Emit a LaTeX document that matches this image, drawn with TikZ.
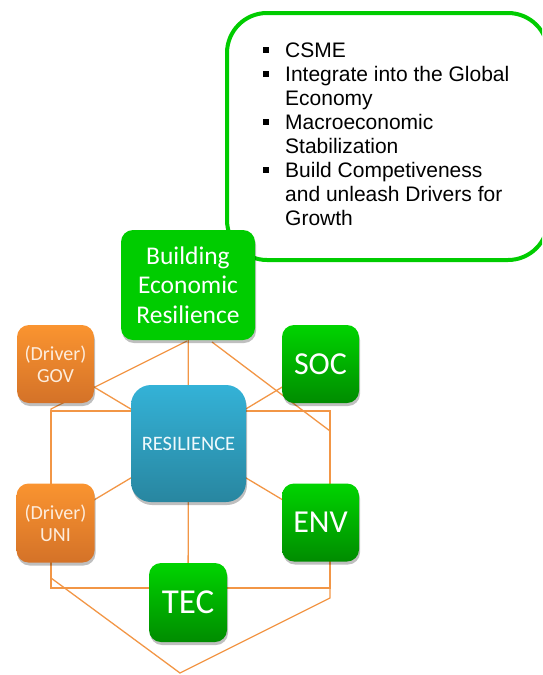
\documentclass[tikz,border=0pt]{standalone}
\usepackage{fontspec}
\setmainfont{Carlito}
\newfontfamily\listfont{Liberation Sans}
\usetikzlibrary{shadows,backgrounds}
\definecolor{calloutgreen}{RGB}{0,204,0}
\definecolor{greentop}{RGB}{0,212,0}
\definecolor{greenbot}{RGB}{0,140,0}
\definecolor{orangetop}{RGB}{250,148,48}
\definecolor{orangebot}{RGB}{212,114,40}
\definecolor{bluetop}{RGB}{52,178,215}
\definecolor{bluebot}{RGB}{40,134,160}
\definecolor{linkorange}{RGB}{242,150,70}
\definecolor{drivertext}{RGB}{253,236,220}
\newcommand\sqbullet{\raisebox{4.5pt}{\rule{6pt}{6pt}}}
\tikzset{
  box/.style={rounded corners=12pt,align=center,inner sep=0pt,text=white,
    drop shadow={shadow xshift=1pt,shadow yshift=-3pt,opacity=0.25,fill=black}},
  greenbox/.style={box,top color=greentop,bottom color=greenbot,
    minimum width=77pt,minimum height=78pt,font=\fontsize{32}{36}\selectfont},
  driverbox/.style={box,top color=orangetop,bottom color=orangebot,text=drivertext,
    minimum width=78pt,minimum height=79pt,font=\fontsize{20}{22}\selectfont},
  link/.style={draw=linkorange,line width=1.3pt}
}
\begin{document}
\begin{tikzpicture}[x=1pt,y=-1pt]
\useasboundingbox (0,0) rectangle (542,675);
\clip (0,0) rectangle (542,675);
% callout with the goals
\draw[calloutgreen,line width=4pt,rounded corners=40pt] (227,13) rectangle (548,260);
\node[anchor=north west,inner sep=0pt,font=\listfont\fontsize{21}{24}\selectfont] (goals) at (263,40)
  {\begin{tabular}{@{}p{22pt}@{}l@{}}
   \sqbullet & CSME\\
   \sqbullet & Integrate into the Global\\
             & Economy\\
   \sqbullet & Macroeconomic\\
             & Stabilization\\
   \sqbullet & Build Competiveness\\
             & and unleash Drivers for\\
             & Growth
   \end{tabular}};
% boxes
\node[box,fill=calloutgreen,minimum width=134pt,minimum height=110pt,
  font=\fontsize{25.5}{29.5}\selectfont] (ber) at (188,285) {Building\\Economic\\Resilience};
\node[driverbox,minimum width=77pt,minimum height=78pt] (gov) at (55.5,364) {(Driver)\\GOV};
\node[driverbox] (uni) at (55.5,523) {(Driver)\\UNI};
\node[greenbox] (soc) at (320.5,364) {SOC};
\node[greenbox] (env) at (320.5,522.5) {ENV};
\node[greenbox,minimum width=78pt,minimum height=79pt,font=\fontsize{35}{38}\selectfont] (tec) at (188,602.5) {TEC};
\node[box,rounded corners=20pt,top color=bluetop,bottom color=bluebot,text=white!92!bluetop,
  minimum width=115pt,minimum height=117pt,font=\fontsize{20.5}{24}\selectfont] (res) at (188.5,443.5) {RESILIENCE};
\begin{scope}[on background layer]
  \draw[link] (187,341) -- (51,409) -- (51,578) -- (180,673) -- (330,598) -- (330,431) -- (212,342);
  \draw[link] (51,411) rectangle (330,588);
  \foreach \n in {ber,gov,soc,uni,env,tec}
    \draw[link] (res.center) -- (\n.center);
\end{scope}
\end{tikzpicture}
\end{document}
